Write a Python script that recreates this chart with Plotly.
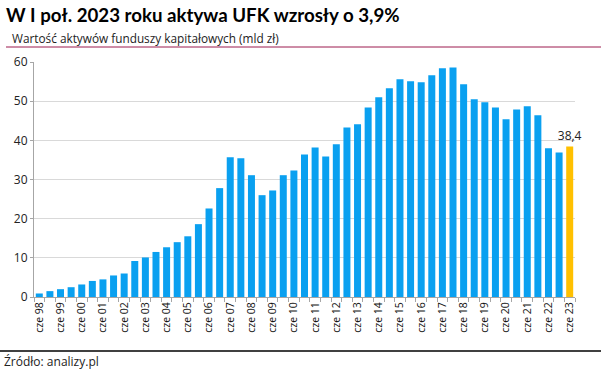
import plotly.graph_objects as go

labels = []
for y in range(98, 124):
    yy = f"{y % 100:02d}"
    labels.append(f"cze {yy}")
    if y < 123:
        labels.append(f"gru {yy}")

values = [0.9, 1.5, 2.0, 2.5, 3.2, 4.1, 4.5, 5.5, 6.0, 9.2,
          10.1, 11.5, 12.7, 14.0, 15.5, 18.6, 22.6, 27.8, 35.7, 35.4,
          31.1, 26.0, 27.2, 31.1, 32.3, 36.4, 38.2, 35.9, 39.0, 43.3,
          44.1, 48.4, 51.0, 53.3, 55.6, 55.1, 54.8, 56.6, 58.4, 58.6,
          54.3, 50.5, 49.7, 48.4, 45.4, 47.9, 48.7, 46.4, 38.0, 36.9,
          38.4]

tick_text = [l if l.startswith("cze") else "" for l in labels]
bar_colors = ["#0aa0f0"] * (len(values) - 1) + ["#ffc000"]
bar_text = [""] * (len(values) - 1) + ["38,4"]

W, H = 601, 369
L, R, T, B = 34, 26, 62, 72
pw, ph = W - L - R, H - T - B


def px(x):
    return (x - L) / pw


def py(y):
    return (H - B - y) / ph


fig = go.Figure()
fig.add_trace(go.Bar(
    x=labels, y=values, marker=dict(color=bar_colors, line=dict(width=0)),
    text=bar_text, textposition="outside", cliponaxis=False, constraintext="none",
    textfont=dict(family="Open Sans", size=12, color="#222222"),
    hoverinfo="skip",
))

fig.update_layout(
    width=W, height=H,
    margin=dict(l=L, r=R, t=T, b=B, autoexpand=False),
    paper_bgcolor="white", plot_bgcolor="white",
    bargap=0.34, showlegend=False,
    xaxis=dict(
        type="category", tickmode="array", tickvals=labels, ticktext=tick_text,
        tickangle=-90, tickson="boundaries", ticks="outside", ticklen=4,
        tickcolor="#a6a6a6", showline=True, linecolor="#a6a6a6", linewidth=1,
        tickfont=dict(family="Open Sans", size=10.5, color="#111111"),
        range=[-0.5, len(values) - 0.5], showgrid=False, automargin=False,
    ),
    yaxis=dict(
        range=[0, 60], tickvals=[0, 10, 20, 30, 40, 50, 60],
        showgrid=True, gridcolor="#d9d9d9", gridwidth=1,
        showline=True, linecolor="#a6a6a6", ticks="outside", ticklen=3,
        tickcolor="#a6a6a6", zeroline=False, automargin=False,
        tickfont=dict(family="Open Sans", size=12, color="#222222"),
    ),
)

fig.add_annotation(
    text="<b>W I poł. 2023 roku aktywa UFK wzrosły o 3,9%</b>",
    xref="paper", yref="paper", x=px(4), y=py(15), xanchor="left", yanchor="middle",
    showarrow=False, font=dict(family="Lato", size=18.7, color="#000000", weight=900),
)
fig.add_annotation(
    text="Wartość aktywów funduszy kapitałowych (mld zł)",
    xref="paper", yref="paper", x=px(10), y=py(38), xanchor="left", yanchor="middle",
    showarrow=False, font=dict(family="Open Sans", size=11.8, color="#222222"),
)
fig.add_annotation(
    text="Źródło: analizy.pl",
    xref="paper", yref="paper", x=px(2), y=py(361), xanchor="left", yanchor="middle",
    showarrow=False, font=dict(family="Open Sans", size=12, color="#222222"),
)
fig.add_shape(type="line", xref="paper", yref="paper",
              x0=px(6), x1=px(601), y0=py(47), y1=py(47),
              line=dict(color="#9c1a4e", width=1))
fig.add_shape(type="line", xref="paper", yref="paper",
              x0=px(0), x1=px(601), y0=py(351), y1=py(351),
              line=dict(color="#000000", width=1.5))

fig.write_html("out.html", config={"displayModeBar": False, "staticPlot": True},
               post_script="document.body.style.margin='0';document.body.style.padding='0';")
